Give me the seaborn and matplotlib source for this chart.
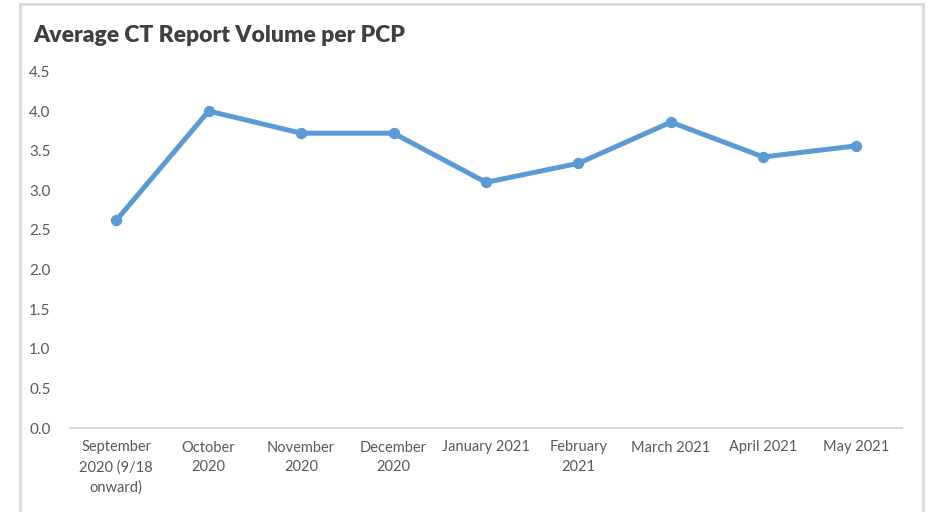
import matplotlib
matplotlib.use('Agg')
import matplotlib.pyplot as plt
import seaborn as sns
from matplotlib.patches import Rectangle

# data
months = ['September\n2020 (9/18\nonward)', 'October\n2020', 'November\n2020',
          'December\n2020', 'January 2021', 'February\n2021', 'March 2021',
          'April 2021', 'May 2021']
avg_volume = [2.62, 4.00, 3.72, 3.72, 3.10, 3.34, 3.86, 3.42, 3.56]
y_ticks = [0.0, 0.5, 1.0, 1.5, 2.0, 2.5, 3.0, 3.5, 4.0, 4.5]

sns.set_style('white')
plt.rcParams['font.family'] = ['Lato', 'DejaVu Sans']

fig = plt.figure(figsize=(9.31, 5.12), dpi=100)
ax = fig.add_axes([70 / 931, 84 / 512, 832 / 931, (428 - 71.4) / 512])

sns.pointplot(x=months, y=avg_volume, ax=ax, color='#5b9bd5',
              markers='o', markersize=5.5, linewidth=3.6, errorbar=None)

ax.set_ylim(0, 4.5)
ax.set_xlim(-0.5, len(months) - 0.5)
ax.set_yticks(y_ticks)
ax.set_yticklabels([f'{t:.1f}' for t in y_ticks])
ax.tick_params(axis='y', length=0, pad=14, labelsize=11, labelcolor='#595959')
ax.tick_params(axis='x', length=0, pad=9, labelsize=10.5, labelcolor='#595959')
for lbl in ax.get_xticklabels():
    lbl.set_linespacing(1.5)

for s in ['top', 'right', 'left']:
    ax.spines[s].set_visible(False)
ax.spines['bottom'].set_color('#d9d9d9')
ax.spines['bottom'].set_linewidth(1.5)
ax.set_xlabel('')
ax.set_ylabel('')

# outer chart frame
fig.patches.append(Rectangle((20 / 931, -0.05), 903 / 931, 1.05 - 4 / 512,
                             transform=fig.transFigure, fill=False,
                             edgecolor='#d9d9d9', linewidth=2))

fig.text(33 / 931, 1 - 35 / 512, 'Average CT Report Volume per PCP',
         fontsize=16.5, fontweight='heavy', color='#404040', va='center')

fig.savefig('out.png', dpi=100)
